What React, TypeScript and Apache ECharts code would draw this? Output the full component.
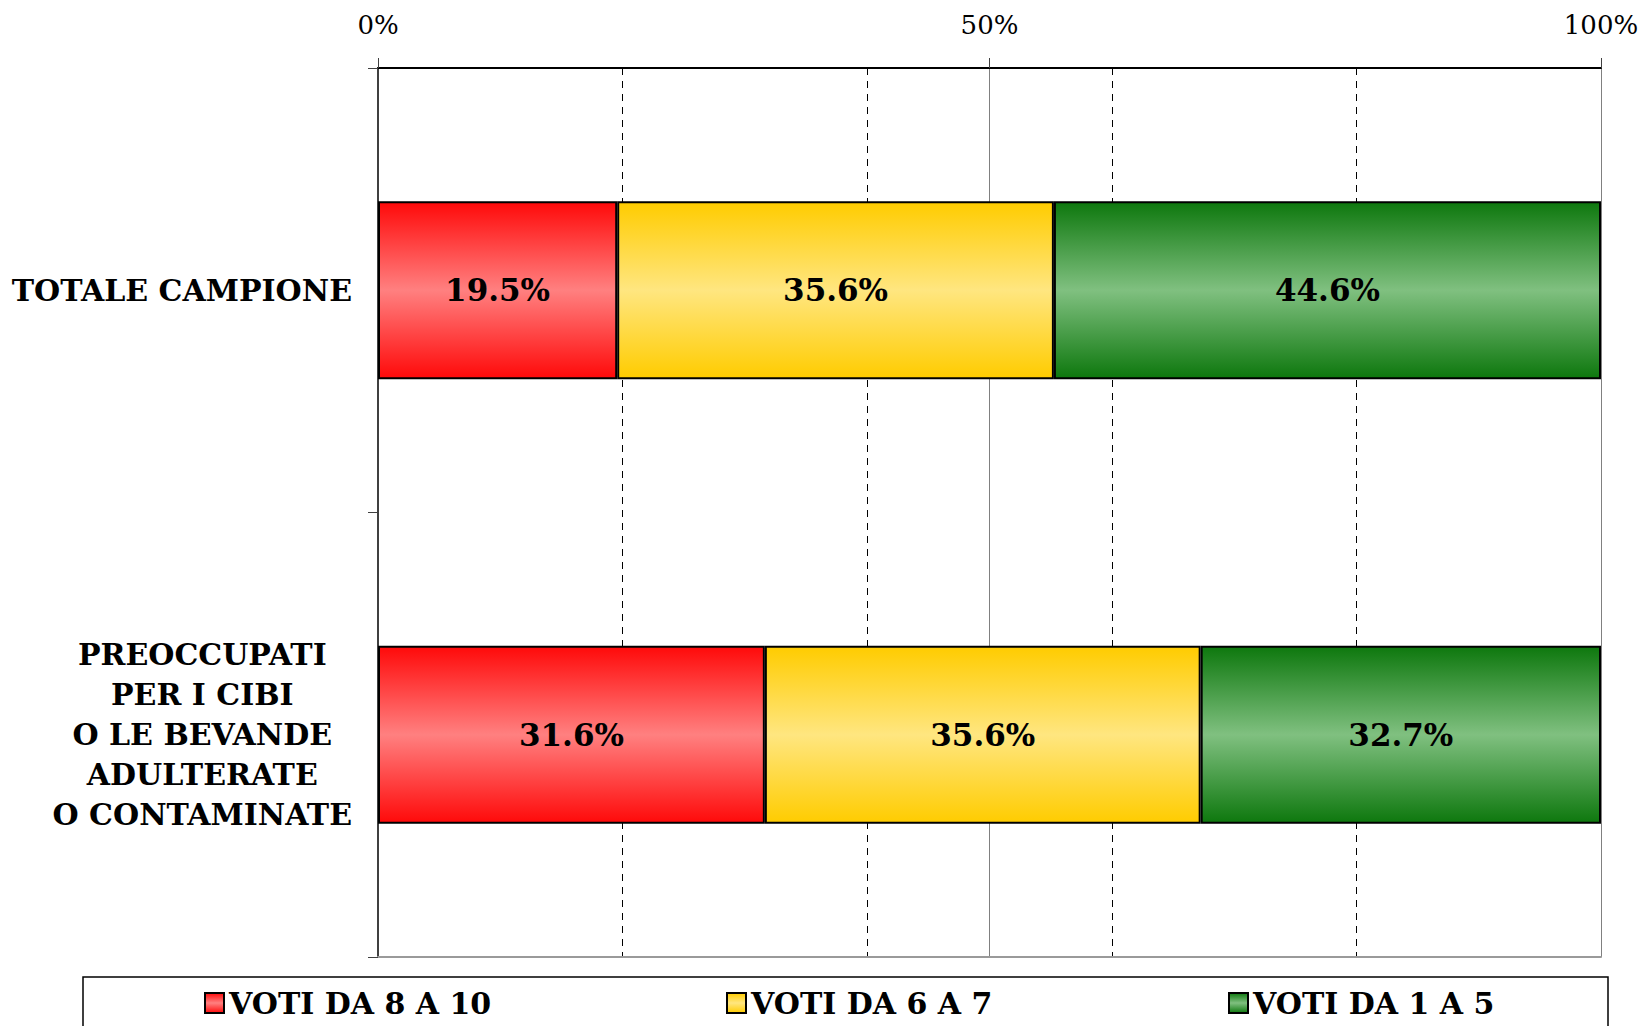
import React, { useEffect, useRef } from "react";
import * as echarts from "echarts";

const categories = [
  "TOTALE CAMPIONE",
  "PREOCCUPATI\nPER I CIBI\nO LE BEVANDE\nADULTERATE\nO CONTAMINATE",
];
const seriesNames = ["VOTI DA 8 A 10", "VOTI DA 6 A 7", "VOTI DA 1 A 5"];
const votes8to10 = [19.5, 31.6];
const votes6to7 = [35.6, 35.6];
const votes1to5 = [44.6, 32.7];
const xMajorTicks = [0, 50, 100];

const FONT = "DejaVu Serif";

const palette = [
  { edge: "#FF0A0A", mid: "#FF8080" },
  { edge: "#FFCC00", mid: "#FFE680" },
  { edge: "#0E780E", mid: "#80C080" },
];

function grad(edge: string, mid: string) {
  return new echarts.graphic.LinearGradient(0, 0, 0, 1, [
    { offset: 0, color: edge },
    { offset: 0.5, color: mid },
    { offset: 1, color: edge },
  ]);
}

export default function App() {
  const ref = useRef<HTMLDivElement>(null);

  useEffect(() => {
    document.body.style.margin = "0";
    if (!ref.current) return;
    const chart = echarts.init(ref.current, undefined, { renderer: "svg" });

    const raw = [votes8to10, votes6to7, votes1to5];
    const totals = categories.map((_, i) => raw.reduce((s, arr) => s + arr[i], 0));

    const series = raw.map((arr, si) => ({
      name: seriesNames[si],
      type: "bar",
      stack: "total",
      xAxisIndex: 0,
      barCategoryGap: "60%",
      data: arr.map((v, i) => ({ value: (v / totals[i]) * 100, raw: v })),
      itemStyle: {
        color: grad(palette[si].edge, palette[si].mid),
        borderColor: "#000",
        borderWidth: 2,
      },
      label: {
        show: true,
        position: "inside",
        formatter: (p: any) => `${p.data.raw.toFixed(1)}%`,
        fontFamily: FONT,
        fontWeight: "bold",
        fontSize: 31,
        color: "#000",
      },
    }));

    const legendLefts = [199, 721, 1223];
    const legends = seriesNames.map((n, i) => ({
      data: [n],
      left: legendLefts[i],
      top: 983,
      icon: "rect",
      itemWidth: 19,
      itemHeight: 20,
      textStyle: {
        fontFamily: FONT,
        fontWeight: "bold",
        fontSize: 30,
        color: "#000",
      },
    }));

    chart.setOption({
      animation: false,
      backgroundColor: "#fff",
      grid: { left: 378, right: 42, top: 68, bottom: 69 },
      legend: legends,
      graphic: [
        {
          type: "rect",
          shape: { x: 83, y: 977, width: 1525, height: 80 },
          style: { fill: "none", stroke: "#000", lineWidth: 1.5 },
          silent: true,
        },
      ],
      xAxis: [
        {
          type: "value",
          position: "top",
          min: xMajorTicks[0],
          max: xMajorTicks[xMajorTicks.length - 1],
          interval: xMajorTicks[1] - xMajorTicks[0],
          axisLine: { show: true, lineStyle: { color: "#000", width: 2 } },
          axisTick: { show: true, length: 10, lineStyle: { color: "#404040", width: 1 } },
          axisLabel: {
            formatter: "{value}%",
            fontFamily: FONT,
            fontSize: 26,
            color: "#000",
            margin: 30,
          },
          splitLine: { show: true, lineStyle: { color: "#808080", width: 1 } },
        },
        {
          type: "value",
          position: "bottom",
          min: 0,
          max: 100,
          interval: 20,
          axisLine: { show: true, onZero: false, lineStyle: { color: "#9a9a9a", width: 2 } },
          axisTick: { show: false },
          axisLabel: { show: false },
          splitLine: {
            show: true,
            lineStyle: {
              color: ["transparent", "#000", "#000", "#000", "#000", "transparent"],
              width: 1,
              type: [7, 6],
            },
          },
        },
      ],
      yAxis: {
        type: "category",
        data: categories,
        inverse: true,
        axisLine: { show: true, lineStyle: { color: "#404040", width: 2 } },
        axisTick: { show: true, length: 10, lineStyle: { color: "#404040", width: 1 } },
        axisLabel: {
          margin: 26,
          fontFamily: FONT,
          fontWeight: "bold",
          fontSize: 30,
          color: "#000",
          lineHeight: 40,
          formatter: (v: string) =>
            v.includes("\n")
              ? v
                  .split("\n")
                  .map((l) => `{c|${l}}`)
                  .join("\n")
              : v,
          rich: {
            c: {
              align: "center",
              fontFamily: FONT,
              fontWeight: "bold",
              fontSize: 30,
              color: "#000",
              lineHeight: 40,
            },
          },
        },
      },
      series,
    });

    return () => chart.dispose();
  }, []);

  return <div ref={ref} style={{ width: 1643, height: 1026 }} />;
}
